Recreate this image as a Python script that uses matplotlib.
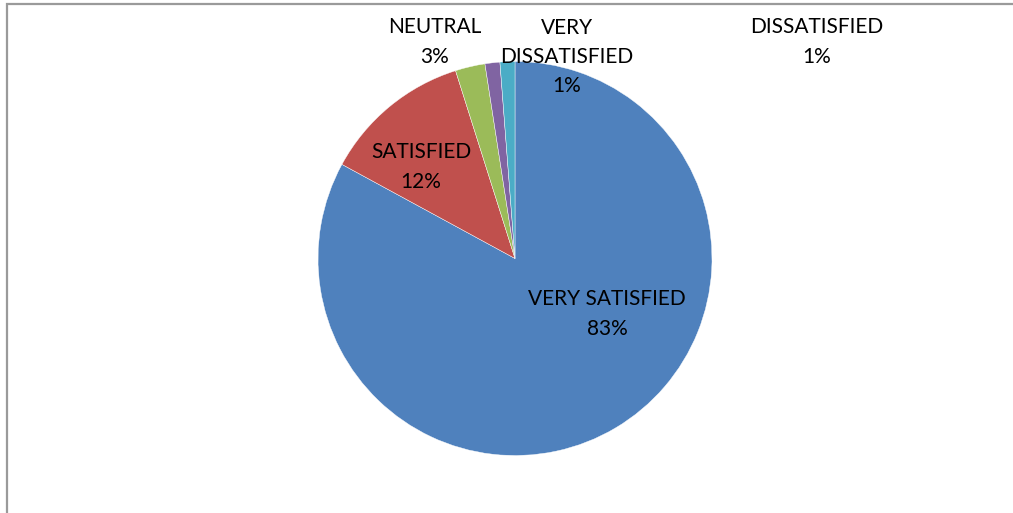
# Customer satisfaction pie chart (Excel-style, labels placed by hand)
import matplotlib.pyplot as plt
from matplotlib.patches import Rectangle

categories = ['VERY SATISFIED', 'SATISFIED', 'NEUTRAL', 'DISSATISFIED',
              'VERY DISSATISFIED']
counts = [68, 10, 2, 1, 1]
pct_labels = ['83%', '12%', '3%', '1%', '1%']
colors = ['#4F81BD', '#C0504D', '#9BBB59', '#8064A2', '#4BACC6']

# label text wrapping and positions (figure pixels, y from top)
label_text = ['VERY SATISFIED', 'SATISFIED', 'NEUTRAL', 'DISSATISFIED',
              'VERY\nDISSATISFIED']
label_pos = [(607, 314), (421, 167), (435, 42), (817, 42), (567, 57)]

W, H = 1013, 513
fig = plt.figure(figsize=(W / 100, H / 100), dpi=100)
ax = fig.add_axes([0, 0, 1, 1])

ax.pie(counts, colors=colors, startangle=90, counterclock=False,
       center=(515, H - 258.5), radius=197, frame=True,
       wedgeprops=dict(linewidth=0.3, edgecolor='white'))
ax.set_xlim(0, W)
ax.set_ylim(0, H)
ax.set_aspect('equal')
ax.axis('off')

for name, pct, (x, y) in zip(label_text, pct_labels, label_pos):
    ax.text(x, H - y, name + '\n' + pct, ha='center', va='center',
            fontsize=15, family='Lato', linespacing=1.58, color='black')

# chart border (left and top edges visible)
ax.add_patch(Rectangle((7, -10), W, H - 4 + 10, fill=False,
                       edgecolor='#9a9a9a', linewidth=1.6, clip_on=False))

fig.savefig('out.png', dpi=100)
